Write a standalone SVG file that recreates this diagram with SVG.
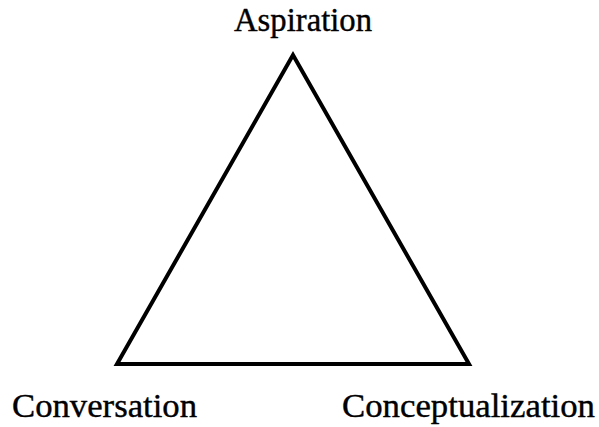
<svg xmlns="http://www.w3.org/2000/svg" width="599" height="427" viewBox="0 0 599 427">
<style>
.lbl{font-family:"Liberation Serif","DejaVu Serif",serif;font-size:34px;fill:#000;stroke:#000;stroke-width:0.4}
.edge{stroke:#000;stroke-width:4;fill:none;stroke-linejoin:miter;stroke-miterlimit:10}
</style>
<rect width="599" height="427" fill="#fff"/>
<g id="connectors">
<path class="edge" d="M293,55 L117,364 L469,364 Z"/>
</g>
<g id="aspiration"><text class="lbl" x="234" y="31" textLength="138" lengthAdjust="spacingAndGlyphs">Aspiration</text></g>
<g id="conversation"><text class="lbl" x="12" y="417" textLength="185" lengthAdjust="spacingAndGlyphs">Conversation</text></g>
<g id="conceptualization"><text class="lbl" x="342" y="417" textLength="253" lengthAdjust="spacingAndGlyphs">Conceptualization</text></g>
</svg>
